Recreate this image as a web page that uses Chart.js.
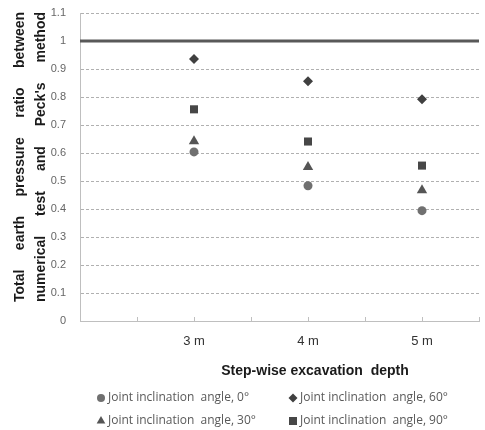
<!DOCTYPE html>
<html>
<head>
<meta charset="utf-8">
<script src="https://cdn.jsdelivr.net/npm/chart.js@4/dist/chart.umd.min.js"></script>
<style>
  html, body { margin: 0; padding: 0; background: #fff; overflow: hidden; }
  #wrap { width: 485px; height: 430px; position: relative; }
</style>
</head>
<body>
<div id="wrap"><canvas id="pressureGraph"></canvas></div>
<script>
// excavation steps and where they sit on the x axis (0..7)
const categories = ['3 m', '4 m', '5 m'];
const categoryX = [2, 4, 6];

// pressure ratio for each joint inclination angle
const angle0 = [0.604, 0.483, 0.394];
const angle30 = [0.642, 0.550, 0.467];
const angle60 = [0.936, 0.856, 0.792];
const angle90 = [0.756, 0.641, 0.555];
const pecksRatio = 1.0; // Peck's method reference

const seriesLabels = ['Joint inclination  angle, 0°', 'Joint inclination  angle, 30°',
                      'Joint inclination  angle, 60°', 'Joint inclination  angle, 90°'];

const yTitle = ['Total earth pressure ratio between', "numerical test and Peck's method"];
const xTitle = 'Step-wise excavation  depth';

function toPoints(values) {
    return values.map((v, i) => ({ x: categoryX[i], y: v }));
}

// titles, inward ticks and the two-column legend
const extrasPlugin = {
    id: 'extras',
    afterDraw(chart) {
        const ctx = chart.ctx;
        const area = chart.chartArea;
        const xs = chart.scales.x;
        ctx.save();

        // small tick marks pointing up into the plot
        ctx.strokeStyle = '#bfbfbf';
        ctx.lineWidth = 1;
        xs.ticks.forEach(t => {
            const px = Math.round(xs.getPixelForValue(t.value)) + 0.5;
            ctx.beginPath();
            ctx.moveTo(px, area.bottom);
            ctx.lineTo(px, area.bottom - 4);
            ctx.stroke();
        });

        // y title, two justified lines
        ctx.fillStyle = '#1a1a1a';
        ctx.font = 'bold 14px "Liberation Sans", Arial, sans-serif';
        ctx.textBaseline = 'middle';
        ctx.textAlign = 'left';
        const span = 290, midY = 157;
        const lineX = [20, 41];
        yTitle.forEach((line, li) => {
            const words = line.split(' ');
            const widths = words.map(w => ctx.measureText(w).width);
            const total = widths.reduce((a, b) => a + b, 0);
            const gap = (span - total) / (words.length - 1);
            ctx.save();
            ctx.translate(lineX[li], midY);
            ctx.rotate(-Math.PI / 2);
            let pos = -span / 2;
            words.forEach((w, i) => {
                ctx.fillText(w, pos, 0);
                pos += widths[i] + gap;
            });
            ctx.restore();
        });

        // x title
        ctx.textAlign = 'center';
        ctx.fillText(xTitle, 315, 371);

        // legend
        ctx.font = '12px "Open Sans", sans-serif';
        ctx.textAlign = 'left';
        const colX = [101, 293];
        const rowY = [398, 421];
        chart.data.datasets.forEach((ds, i) => {
            if (!ds.inLegend) return;
            const cx = colX[Math.floor(i / 2)];
            const cy = rowY[i % 2];
            ctx.fillStyle = ds.backgroundColor;
            ctx.strokeStyle = ds.backgroundColor;
            Chart.helpers.drawPoint(ctx, {
                pointStyle: ds.pointStyle,
                radius: ds.legendRadius,
                rotation: 0,
                borderWidth: 0
            }, cx, cy);
            ctx.fillStyle = '#595959';
            ctx.fillText(ds.label, cx + 7, cy);
        });
        ctx.restore();
    }
};

var ctxPressure = document.getElementById('pressureGraph').getContext('2d');
var pressureChart = new Chart(ctxPressure, {
    type: 'scatter',
    data: {
        datasets: [
            { label: seriesLabels[0], data: toPoints(angle0), pointStyle: 'circle', pointRadius: 4.5,
              backgroundColor: '#707070', borderWidth: 0, inLegend: true, legendRadius: 4 },
            { label: seriesLabels[1], data: toPoints(angle30), pointStyle: 'triangle', pointRadius: 6,
              backgroundColor: '#555555', borderWidth: 0, inLegend: true, legendRadius: 5 },
            { label: seriesLabels[2], data: toPoints(angle60), pointStyle: 'rectRot', pointRadius: 5,
              backgroundColor: '#404040', borderWidth: 0, inLegend: true, legendRadius: 4.5 },
            { label: seriesLabels[3], data: toPoints(angle90), pointStyle: 'rect', pointRadius: 5.7,
              backgroundColor: '#474747', borderWidth: 0, inLegend: true, legendRadius: 5.7 },
            { type: 'line', label: "Peck's method", data: [{ x: 0, y: pecksRatio }, { x: 7, y: pecksRatio }],
              borderColor: '#595959', borderWidth: 3, pointRadius: 0, order: 10 }
        ]
    },
    options: {
        responsive: true,
        maintainAspectRatio: false,
        animation: false,
        layout: { padding: { top: 13, right: 3, left: 0, bottom: 0 } },
        plugins: {
            legend: { display: false },
            tooltip: { enabled: false }
        },
        scales: {
            x: {
                type: 'linear',
                min: 0,
                max: 7,
                afterFit: s => { s.height = 109; s.paddingLeft = 0; s.paddingRight = 0; },
                grid: { display: false },
                border: { color: '#bfbfbf', width: 1 },
                ticks: {
                    stepSize: 1,
                    autoSkip: false,
                    maxRotation: 0,
                    padding: 5,
                    color: '#333333',
                    font: { family: '"Liberation Sans", Arial, sans-serif', size: 13 },
                    callback: v => {
                        const i = categoryX.indexOf(v);
                        return i >= 0 ? categories[i] : '';
                    }
                }
            },
            y: {
                min: 0,
                max: 1.1,
                afterFit: s => { s.width = 80; s.paddingTop = 0; s.paddingBottom = 0; },
                grid: { color: '#b0b0b0', drawTicks: false, lineWidth: 1 },
                border: { color: '#bfbfbf', width: 1, dash: [3, 2] },
                ticks: {
                    stepSize: 0.1,
                    padding: 14,
                    color: '#666666',
                    font: { family: '"Liberation Sans", Arial, sans-serif', size: 11 },
                    callback: v => String(Number(v.toFixed(1)))
                }
            }
        }
    },
    plugins: [extrasPlugin]
});
</script>
</body>
</html>
